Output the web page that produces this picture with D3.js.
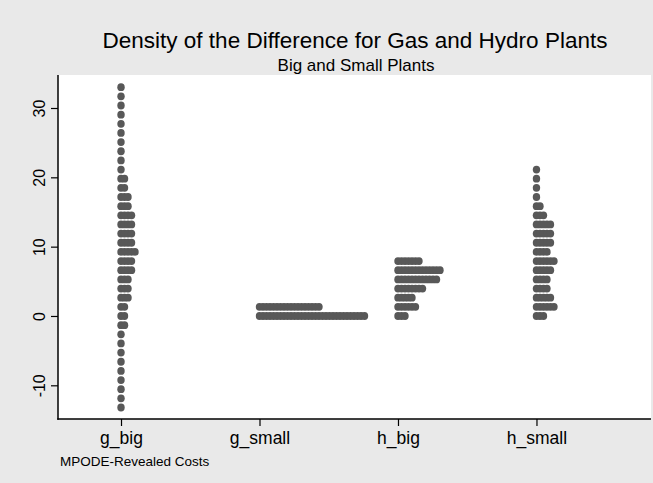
<!DOCTYPE html>
<html>
<head>
<meta charset="utf-8">
<script src="https://cdn.jsdelivr.net/npm/d3@7"></script>
<style>
  html, body { margin: 0; padding: 0; background: #fff; }
  svg { display: block; }
  text { font-family: "Liberation Sans", Arial, sans-serif; fill: #000; }
</style>
</head>
<body>
<svg id="chart" width="653" height="483"></svg>
<script>
// ---- data ----
const categories = ["g_big", "g_small", "h_big", "h_small"];
// bin levels (y values of dot rows)
const levels = [-13.2, -11.88, -10.56, -9.24, -7.92, -6.6, -5.28, -3.96, -2.64, -1.32,
  0, 1.32, 2.64, 3.96, 5.28, 6.6, 7.92, 9.24, 10.56, 11.88, 13.2, 14.52, 15.84, 17.16,
  18.48, 19.8, 21.12, 22.44, 23.76, 25.08, 26.4, 27.72, 29.04, 30.36, 31.68, 33.0];
// number of dots at each level, per group
const gBigCounts =   [1,1,1,1,1,1,1,1,1,2, 2,2,3,3,3,4,4,5,4,4,4,4,3,3, 2,2,1,1,1,1,1,1,1,1,1,1];
const gSmallCounts = [0,0,0,0,0,0,0,0,0,0, 31,18,0,0,0,0,0,0,0,0,0,0,0,0, 0,0,0,0,0,0,0,0,0,0,0,0];
const hBigCounts =   [0,0,0,0,0,0,0,0,0,0, 3,6,5,8,12,13,7,0,0,0,0,0,0,0, 0,0,0,0,0,0,0,0,0,0,0,0];
const hSmallCounts = [0,0,0,0,0,0,0,0,0,0, 3,6,5,4,4,5,6,4,5,5,5,3,2,1, 1,1,1,0,0,0,0,0,0,0,0,0];
const groupCounts = [gBigCounts, gSmallCounts, hBigCounts, hSmallCounts];
const yTicks = [-10, 0, 10, 20, 30];
const titleText = "Density of the Difference for Gas and Hydro Plants";
const subtitleText = "Big and Small Plants";
const noteText = "MPODE-Revealed Costs";

// ---- layout ----
const W = 653, H = 483;
const plot = { left: 58, right: 651, top: 75, bottom: 419 };
const svg = d3.select("#chart");

svg.append("rect").attr("x", 0).attr("y", 0).attr("width", W).attr("height", H).attr("fill", "#e9e9e9");
svg.append("rect").attr("x", plot.left).attr("y", plot.top)
  .attr("width", plot.right - plot.left).attr("height", plot.bottom - plot.top).attr("fill", "#ffffff");

const x = d3.scaleLinear().domain([0.545, 4.827]).range([plot.left, plot.right]);
const y = d3.scaleLinear().domain([-14.86, 34.76]).range([plot.bottom, plot.top]);

// dots
const dotStep = 3.5, dotRx = 3.7, dotRy = 3.9;
const dots = [];
groupCounts.forEach((counts, gi) => {
  counts.forEach((n, li) => {
    for (let k = 0; k < n; k++) dots.push({ g: gi, v: levels[li], k });
  });
});
svg.append("g").selectAll("ellipse").data(dots).join("ellipse")
  .attr("cx", d => x(d.g + 1) + d.k * dotStep)
  .attr("cy", d => y(d.v))
  .attr("rx", dotRx).attr("ry", dotRy)
  .attr("fill", "#585858");

// y axis
const yAxis = svg.append("g").attr("transform", `translate(${plot.left},0)`)
  .call(d3.axisLeft(y).tickValues(yTicks).tickSize(7).tickFormat(d => String(d)));
yAxis.select(".domain").attr("stroke", "#000").attr("stroke-width", 1.5)
  .attr("d", `M0,${plot.top}V${plot.bottom + 0.75}`);
yAxis.selectAll(".tick line").attr("stroke", "#000").attr("stroke-width", 1.2);
yAxis.selectAll(".tick text")
  .attr("font-size", 16).attr("font-family", "Liberation Sans, Arial, sans-serif")
  .attr("x", null).attr("dy", null)
  .attr("text-anchor", "middle")
  .attr("transform", "translate(-13.5,0) rotate(-90)")
  .attr("fill", "#000");

// x axis
const xAxis = svg.append("g").attr("transform", `translate(0,${plot.bottom})`)
  .call(d3.axisBottom(x).tickValues([1, 2, 3, 4]).tickSize(7).tickFormat((d, i) => categories[i]));
xAxis.select(".domain").attr("stroke", "#000").attr("stroke-width", 1.5)
  .attr("d", `M${plot.left - 0.75},0H${plot.right}`);
xAxis.selectAll(".tick line").attr("stroke", "#000").attr("stroke-width", 1.2);
xAxis.selectAll(".tick text")
  .attr("font-size", 17.5).attr("font-family", "Liberation Sans, Arial, sans-serif")
  .attr("y", 25).attr("dy", null).attr("fill", "#000");

// titles
svg.append("text").attr("x", 355).attr("y", 48).attr("text-anchor", "middle")
  .attr("font-size", 22.5).text(titleText);
svg.append("text").attr("x", 356).attr("y", 71).attr("text-anchor", "middle")
  .attr("font-size", 17).text(subtitleText);
svg.append("text").attr("x", 60).attr("y", 466).attr("font-size", 13.5).text(noteText);
</script>
</body>
</html>
